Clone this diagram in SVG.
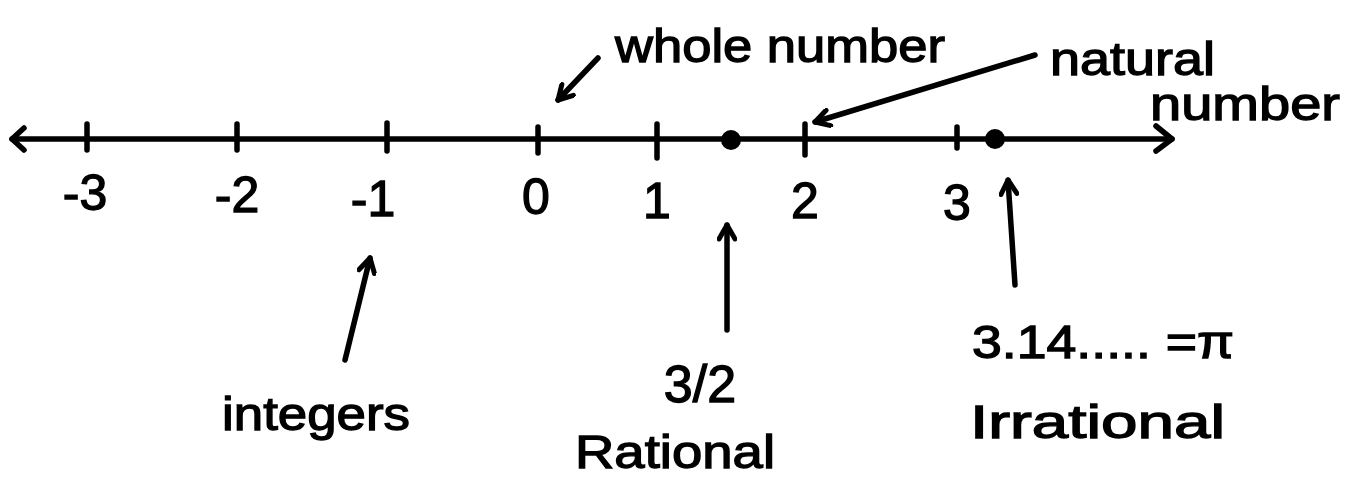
<svg xmlns="http://www.w3.org/2000/svg" width="1357" height="478" viewBox="0 0 1357 478">
<defs>
<style>
.s{fill:none;stroke:#000;stroke-width:5.5;stroke-linecap:round;stroke-linejoin:round}
.t{font-family:"Liberation Sans","DejaVu Sans",sans-serif;fill:#000;stroke:#000;stroke-width:1.3;font-size:46px}
.n{font-size:50px}
</style>
<marker id="ah" viewBox="0 0 20 20" refX="17" refY="10" markerWidth="20" markerHeight="20" markerUnits="userSpaceOnUse" orient="auto">
<path d="M3,2 L17,10 L3,18" fill="none" stroke="#000" stroke-width="5" stroke-linecap="round" stroke-linejoin="round"/>
</marker>
</defs>
<rect width="1357" height="478" fill="#fff"/>
<g id="numberline">
<path class="s" d="M12,139 L1172,139"/>
<path class="s" d="M24,128 L12,139 L24,150"/>
<path class="s" d="M1156,126 L1172,139 L1156,151"/>
<path class="s" d="M87,124 V150 M237,124 V150 M387,123 V151 M538,127 V153 M657,124 V158 M805,124 V155 M957,127 V148"/>
<circle cx="731" cy="140" r="10"/>
<circle cx="995" cy="139" r="10"/>
</g>
<g id="ticklabels" class="t n">
<text x="85" y="210" text-anchor="middle">-3</text>
<text x="237" y="212" text-anchor="middle">-2</text>
<text x="373" y="216" text-anchor="middle">-1</text>
<text x="536" y="214" text-anchor="middle">0</text>
<text x="657" y="218" text-anchor="middle">1</text>
<text x="805" y="218" text-anchor="middle">2</text>
<text x="957" y="220" text-anchor="middle">3</text>
</g>
<g id="connectors">
<path class="s" d="M598,58 L558,100" marker-end="url(#ah)"/>
<path class="s" d="M1035,55 L815,122" marker-end="url(#ah)"/>
<path class="s" d="M345,360 L370,258" marker-end="url(#ah)"/>
<path class="s" d="M727,330 L727,225" marker-end="url(#ah)"/>
<path class="s" d="M1015,285 L1008,180" marker-end="url(#ah)"/>
</g>
<g id="whole" class="t"><text x="615" y="62" textLength="330" lengthAdjust="spacingAndGlyphs">whole number</text></g>
<g id="natural" class="t">
<text x="1050" y="75" textLength="165" lengthAdjust="spacingAndGlyphs">natural</text>
<text x="1150" y="120" textLength="190" lengthAdjust="spacingAndGlyphs">number</text>
</g>
<g id="integers" class="t"><text x="222" y="430" textLength="188" lengthAdjust="spacingAndGlyphs">integers</text></g>
<g id="rational" class="t">
<text x="700" y="402" text-anchor="middle" font-size="52">3/2</text>
<text x="575" y="468" textLength="200" lengthAdjust="spacingAndGlyphs">Rational</text>
</g>
<g id="irrational" class="t">
<text x="972" y="358" textLength="262" lengthAdjust="spacingAndGlyphs">3.14..... =π</text>
<text x="970" y="438" textLength="255" lengthAdjust="spacingAndGlyphs">Irrational</text>
</g>
</svg>
